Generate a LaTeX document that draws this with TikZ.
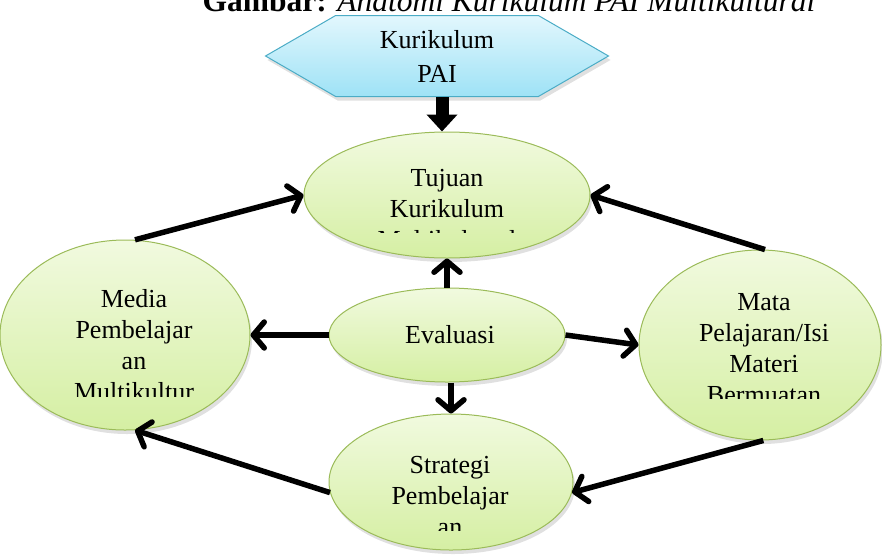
\documentclass[tikz,border=0pt]{standalone}
\usepackage{fontspec}
\setmainfont{Liberation Serif}
\usetikzlibrary{positioning,shapes.geometric,shapes.symbols,shadows,arrows.meta}

\definecolor{leafline}{HTML}{9BBB59}
\definecolor{leaftop}{HTML}{F1FADF}
\definecolor{leafbot}{HTML}{D5EFA3}
\definecolor{skyline}{HTML}{4BACC6}
\definecolor{skytop}{HTML}{E2F7FD}
\definecolor{skybot}{HTML}{9EE2F6}

\begin{document}
\begin{tikzpicture}
    [
    x=1pt, y=-1pt,
    bubble/.style={ellipse,draw=leafline,line width=1pt,top color=leaftop,bottom color=leafbot,inner sep=0pt,
      drop shadow={shadow xshift=2pt,shadow yshift=-4pt,opacity=0.12,fill=black}},
    bubbletext/.style={font=\fontsize{26}{31}\selectfont,align=center,inner sep=0pt,anchor=base},
    hexa/.style={signal,signal to=west and east,signal pointer angle=60,draw=skyline,line width=1pt,
      top color=skytop,bottom color=skybot,minimum width=343pt,minimum height=81pt,inner sep=0pt,
      font=\fontsize{26}{34}\selectfont,align=center,
      drop shadow={shadow xshift=2pt,shadow yshift=-4pt,opacity=0.12,fill=black}},
    link/.style={line width=5.5pt,-{Straight Barb[round,length=11pt,width=26pt]}},
    ]
    \useasboundingbox (0,0) rectangle (882,555);

    % judul, terpotong di tepi atas
    \node (judul) [anchor=base west,font=\fontsize{31.5}{36}\selectfont] at (199,11)
      {\textbf{Gambar:} \textit{Anatomi Kurikulum PAI Multikultural}};

    \node (kurikulum) [hexa] at (437,56) {Kurikulum\\PAI};

    \node (tujuan) [bubble,minimum width=286pt,minimum height=126pt] at (447,195) {};
    \node (media) [bubble,minimum width=250pt,minimum height=190pt] at (125,335) {};
    \node (evaluasi) [bubble,minimum width=236pt,minimum height=94pt] at (447,335) {};
    \node (mata) [bubble,minimum width=242pt,minimum height=190pt] at (760,345) {};
    \node (strategi) [bubble,minimum width=244pt,minimum height=136pt] at (451,482) {};

    % teks di dalam kotak teks yang terpotong
    \begin{scope}
      \clip (300,140) rectangle (600,232);
      \node (tujuantext) [bubbletext] at (447,248) {Tujuan\\Kurikulum\\Multikultural};
    \end{scope}
    \begin{scope}
      \clip (0,270) rectangle (250,396);
      \node (mediatext) [bubbletext] at (134,400) {Media\\Pembelajar\\an\\Multikultur};
    \end{scope}
    \node (evaluasitext) [bubbletext] at (450,343) {Evaluasi};
    \begin{scope}
      \clip (640,280) rectangle (882,398);
      \node (matatext) [bubbletext] at (764,403) {Mata\\Pelajaran/Isi\\Materi\\Bermuatan};
    \end{scope}
    \begin{scope}
      \clip (330,440) rectangle (572,530);
      \node (strategitext) [bubbletext] at (450,535) {Strategi\\Pembelajar\\an};
    \end{scope}

    \draw [line width=13pt,-{Triangle[length=17pt,width=30pt]}] ([xshift=5pt]kurikulum.south) to ([xshift=-5pt]tujuan.north);

    \draw [link] (media.84) to (tujuan.west);
    \draw [link] (mata.87) to (tujuan.east);
    \draw [link] (evaluasi.west) to (media.east);
    \draw [link] (evaluasi.east) to (mata.west);
    \draw [link] (evaluasi.north) to (tujuan.south);
    \draw [link] (evaluasi.south -| strategi.north) to (strategi.north);
    \draw [link] (strategi.185) to (media.-84);
    \draw [link] (mata.-88) to (strategi.-5);
  \end{tikzpicture}
\end{document}
